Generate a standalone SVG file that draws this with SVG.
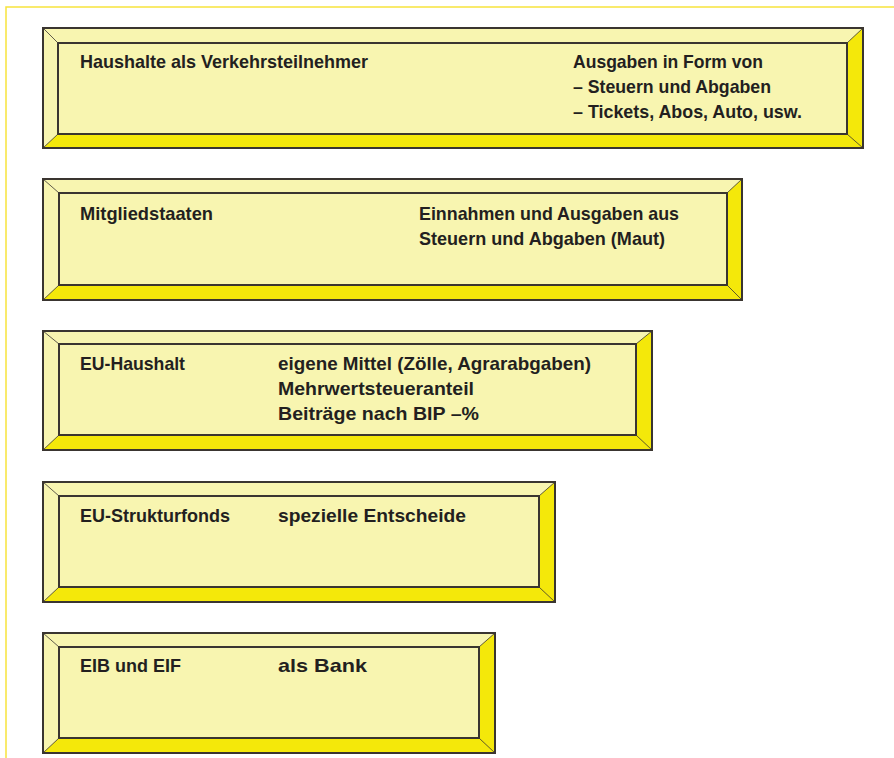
<svg xmlns="http://www.w3.org/2000/svg" width="894" height="758" viewBox="0 0 894 758">
<defs>
<style>
.light{fill:#f8f5b0}
.bright{fill:#f4e80a}
.edge{fill:none;stroke:#3a3530;stroke-width:2}
.inner{fill:#f8f5b0;stroke:#3a3530;stroke-width:2}
.diag{stroke:#3a3530;stroke-width:0.8}
.t{font-family:"Liberation Sans",Arial,sans-serif;font-weight:bold;font-size:18.5px;fill:#231f20}
.frame{stroke:#f7e43c;stroke-width:1.5;fill:none}
</style>
</defs>
<rect width="894" height="758" fill="#ffffff"/>
<path class="frame" d="M6,758 V7 H894"/>

<g id="box1">
<rect class="light" x="43" y="28" width="820" height="120"/>
<polygon class="bright" points="863,28 863,148 43,148 58,134 847,134 847,43"/>
<line class="diag" x1="43" y1="28" x2="58" y2="43"/>
<line class="diag" x1="863" y1="28" x2="847" y2="43"/>
<line class="diag" x1="863" y1="148" x2="847" y2="134"/>
<line class="diag" x1="43" y1="148" x2="58" y2="134"/>
<rect class="inner" x="58" y="43" width="789" height="91"/>
<rect class="edge" x="43" y="28" width="820" height="120"/>
<text class="t" x="80" y="68" textLength="288" lengthAdjust="spacingAndGlyphs">Haushalte als Verkehrsteilnehmer</text>
<text class="t" x="573" y="68" textLength="190" lengthAdjust="spacingAndGlyphs">Ausgaben in Form von</text>
<text class="t" x="573" y="93" textLength="198" lengthAdjust="spacingAndGlyphs">– Steuern und Abgaben</text>
<text class="t" x="573" y="118" textLength="229" lengthAdjust="spacingAndGlyphs">– Tickets, Abos, Auto, usw.</text>
</g>

<g id="box2">
<rect class="light" x="43" y="179" width="699" height="121"/>
<polygon class="bright" points="742,179 742,300 43,300 59,285 727,285 727,193"/>
<line class="diag" x1="43" y1="179" x2="59" y2="193"/>
<line class="diag" x1="742" y1="179" x2="727" y2="193"/>
<line class="diag" x1="742" y1="300" x2="727" y2="285"/>
<line class="diag" x1="43" y1="300" x2="59" y2="285"/>
<rect class="inner" x="59" y="193" width="668" height="92"/>
<rect class="edge" x="43" y="179" width="699" height="121"/>
<text class="t" x="80" y="220" textLength="133" lengthAdjust="spacingAndGlyphs">Mitgliedstaaten</text>
<text class="t" x="419" y="220" textLength="260" lengthAdjust="spacingAndGlyphs">Einnahmen und Ausgaben aus</text>
<text class="t" x="419" y="245" textLength="246" lengthAdjust="spacingAndGlyphs">Steuern und Abgaben (Maut)</text>
</g>

<g id="box3">
<rect class="light" x="43" y="331" width="609" height="119"/>
<polygon class="bright" points="652,331 652,450 43,450 59,435 636,435 636,344"/>
<line class="diag" x1="43" y1="331" x2="59" y2="344"/>
<line class="diag" x1="652" y1="331" x2="636" y2="344"/>
<line class="diag" x1="652" y1="450" x2="636" y2="435"/>
<line class="diag" x1="43" y1="450" x2="59" y2="435"/>
<rect class="inner" x="59" y="344" width="577" height="91"/>
<rect class="edge" x="43" y="331" width="609" height="119"/>
<text class="t" x="80" y="370" textLength="105" lengthAdjust="spacingAndGlyphs">EU-Haushalt</text>
<text class="t" x="278" y="370" textLength="313" lengthAdjust="spacingAndGlyphs">eigene Mittel (Zölle, Agrarabgaben)</text>
<text class="t" x="278" y="395" textLength="196" lengthAdjust="spacingAndGlyphs">Mehrwertsteueranteil</text>
<text class="t" x="278" y="420" textLength="201" lengthAdjust="spacingAndGlyphs">Beiträge nach BIP –%</text>
</g>

<g id="box4">
<rect class="light" x="43" y="482" width="512" height="120"/>
<polygon class="bright" points="555,482 555,602 43,602 59,587 539,587 539,496"/>
<line class="diag" x1="43" y1="482" x2="59" y2="496"/>
<line class="diag" x1="555" y1="482" x2="539" y2="496"/>
<line class="diag" x1="555" y1="602" x2="539" y2="587"/>
<line class="diag" x1="43" y1="602" x2="59" y2="587"/>
<rect class="inner" x="59" y="496" width="480" height="91"/>
<rect class="edge" x="43" y="482" width="512" height="120"/>
<text class="t" x="80" y="522" textLength="150" lengthAdjust="spacingAndGlyphs">EU-Strukturfonds</text>
<text class="t" x="278" y="522" textLength="188" lengthAdjust="spacingAndGlyphs">spezielle Entscheide</text>
</g>

<g id="box5">
<rect class="light" x="43" y="633" width="452" height="120"/>
<polygon class="bright" points="495,633 495,753 43,753 59,738 479,738 479,647"/>
<line class="diag" x1="43" y1="633" x2="59" y2="647"/>
<line class="diag" x1="495" y1="633" x2="479" y2="647"/>
<line class="diag" x1="495" y1="753" x2="479" y2="738"/>
<line class="diag" x1="43" y1="753" x2="59" y2="738"/>
<rect class="inner" x="59" y="647" width="420" height="91"/>
<rect class="edge" x="43" y="633" width="452" height="120"/>
<text class="t" x="80" y="672" textLength="101" lengthAdjust="spacingAndGlyphs">EIB und EIF</text>
<text class="t" x="278" y="672" textLength="89" lengthAdjust="spacingAndGlyphs">als Bank</text>
</g>

<g id="connectors"></g>
</svg>
